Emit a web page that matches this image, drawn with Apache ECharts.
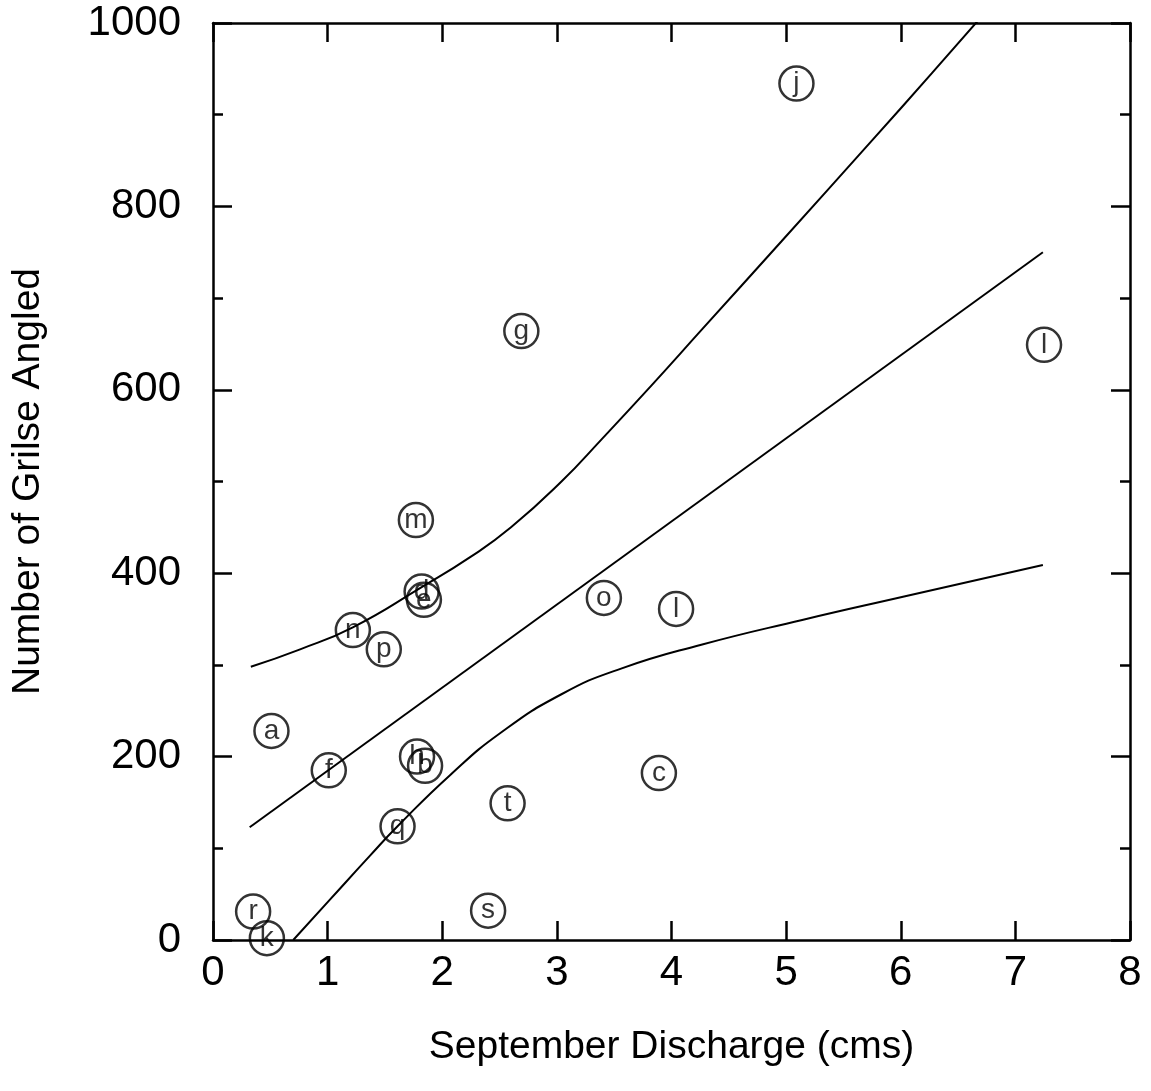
<!DOCTYPE html>
<html>
<head>
<meta charset="utf-8">
<script src="https://cdn.jsdelivr.net/npm/echarts@6/dist/echarts.min.js"></script>
<style>html,body{margin:0;padding:0;background:#fff;}#chart{width:1151px;height:1091px;}</style>
</head>
<body>
<div id="chart"></div>
<script>
// Observations: label, discharge (cms), grilse angled
var pointLabels = ['j','l','g','m','d','e','n','p','o','l','a','f','h','b','c','t','q','s','r','k'];
var pointX = [5.09, 7.25, 2.69, 1.77, 1.82, 1.84, 1.22, 1.49, 3.41, 4.04, 0.51, 1.01, 1.78, 1.85, 3.89, 2.57, 1.61, 2.40, 0.35, 0.47];
var pointY = [934, 649, 664, 458, 380, 371, 338, 317, 373, 361, 228, 185, 200, 190, 182, 149, 124, 32, 31, 2];

// Regression line
var fitX = [0.32, 7.24];
var fitY = [123, 750];

// Upper band
var upperX = [0.33, 0.76, 1.22, 1.81, 2.25, 2.60, 3.04, 3.39, 3.82, 4.26, 4.96, 5.75, 6.27, 6.67];
var upperY = [298, 317, 341, 384, 418, 450, 500, 546, 604, 665, 762, 872, 945, 1002];

// Lower band
var lowerX = [0.70, 1.02, 1.37, 1.61, 2.07, 2.51, 3.04, 3.56, 4.26, 5.14, 6.01, 7.24];
var lowerY = [0, 44, 92, 124, 180, 226, 268, 296, 322, 349, 374, 409];

var xTicks = [0,1,2,3,4,5,6,7,8];
var yTicks = [0,200,400,600,800,1000];

function pairs(xs, ys){ return xs.map(function(x,i){ return [x, ys[i]]; }); }

var FONT = 'Liberation Sans';
var chart = echarts.init(document.getElementById('chart'), null, {renderer:'canvas'});

var axisLine = {show:true, onZero:false, lineStyle:{color:'#000', width:2.5}};
var tick = {inside:true, length:19, lineStyle:{color:'#000', width:2.5}};
var minor = {show:true, splitNumber:2, length:10, lineStyle:{color:'#000', width:2.5}};
var option = {
  backgroundColor:'#fff',
  animation:false,
  grid:{left:213, right:21, top:23, bottom:151, containLabel:false},
  xAxis:[
    {type:'value', min:xTicks[0], max:xTicks[xTicks.length-1], interval:1, position:'bottom',
     axisLine:axisLine, axisTick:tick, splitLine:{show:false},
     axisLabel:{color:'#000', fontSize:42, fontFamily:FONT, margin:12, formatter:function(v){return String(v);}},
     name:'September Discharge (cms)', nameLocation:'middle', nameGap:88,
     nameTextStyle:{color:'#000', fontSize:39, fontFamily:FONT}},
    {type:'value', min:xTicks[0], max:xTicks[xTicks.length-1], interval:1, position:'top',
     axisLine:axisLine, axisTick:tick, splitLine:{show:false}, axisLabel:{show:false}}
  ],
  yAxis:[
    {type:'value', min:yTicks[0], max:yTicks[yTicks.length-1], interval:200, position:'left',
     axisLine:axisLine, axisTick:tick, minorTick:minor,
     splitLine:{show:false}, minorSplitLine:{show:false},
     axisLabel:{color:'#000', fontSize:42, fontFamily:FONT, margin:32, formatter:function(v){return String(v);}},
     name:'Number of Grilse Angled', nameLocation:'middle', nameGap:165, nameRotate:90,
     nameTextStyle:{color:'#000', fontSize:39, fontFamily:FONT}},
    {type:'value', min:yTicks[0], max:yTicks[yTicks.length-1], interval:200, position:'right',
     axisLine:axisLine, axisTick:tick, minorTick:minor,
     splitLine:{show:false}, minorSplitLine:{show:false}, axisLabel:{show:false}}
  ],
  series:[
    {type:'line', data:pairs(fitX, fitY), symbol:'none', lineStyle:{color:'#000', width:2}, clip:true, z:2},
    {type:'line', data:pairs(upperX, upperY), symbol:'none', smooth:0.5, lineStyle:{color:'#000', width:2}, clip:true, z:2},
    {type:'line', data:pairs(lowerX, lowerY), symbol:'none', smooth:0.5, lineStyle:{color:'#000', width:2}, clip:true, z:2},
    {type:'scatter', symbol:'circle', symbolSize:34, clip:false, z:3,
     data: pointX.map(function(x,i){ return {value:[x, pointY[i]], name:pointLabels[i]}; }),
     itemStyle:{color:'rgba(0,0,0,0)', borderColor:'#000', borderWidth:2.5},
     label:{show:true, position:'inside', formatter:function(p){return p.name;}, color:'#000', fontSize:28, fontFamily:FONT}}
  ]
};
chart.setOption(option);
</script>
</body>
</html>
